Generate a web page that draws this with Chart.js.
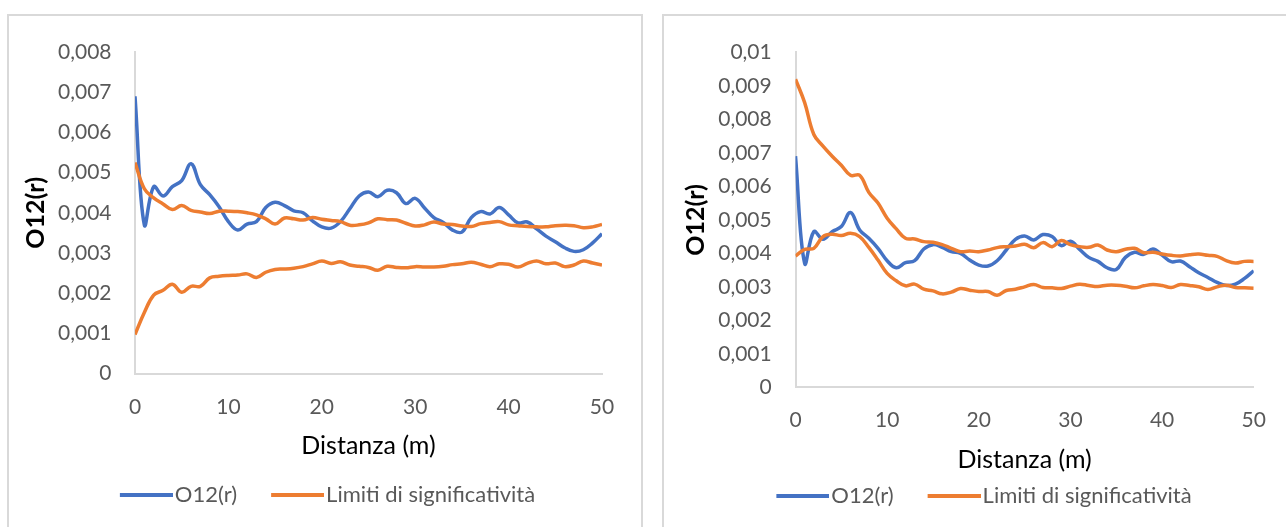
<!DOCTYPE html>
<html lang="it">
<head>
<meta charset="utf-8">
<title>O12(r) – Distanza (m)</title>
<script src="https://cdn.jsdelivr.net/npm/chart.js@4.4.1/dist/chart.umd.min.js"></script>
<style>
  html, body { margin: 0; padding: 0; background: #fff; overflow: hidden; width: 1286px; height: 527px; }
  .box { position: absolute; border: 2px solid #d9d9d9; border-bottom: none; background: #fff; }
  #boxA { left: 7px; top: 14px; width: 632px; height: 520px; }
  #boxB { left: 662px; top: 14px; width: 640px; height: 520px; }
  canvas { position: absolute; left: 0; top: 0; }
</style>
</head>
<body>
<div class="box" id="boxA"><canvas id="chartA" width="632" height="511"></canvas></div>
<div class="box" id="boxB"><canvas id="chartB" width="622" height="511"></canvas></div>
<script>
// Distanza (m)
const distanze = [0,1,2,3,4,5,6,7,8,9,10,11,12,13,14,15,16,17,18,19,20,21,22,23,24,25,
  26,27,28,29,30,31,32,33,34,35,36,37,38,39,40,41,42,43,44,45,46,47,48,49,50];

// O12(r), same curve in both panels
const o12 = [0.0069,0.0037,0.00465,0.00442,0.00465,0.0048,0.00522,0.0047,0.00445,0.00415,
  0.00378,0.00357,0.00372,0.00378,0.00413,0.00426,0.00418,0.00405,0.0040,0.0038,
  0.00365,0.00362,0.00378,0.0041,0.00442,0.00452,0.0044,0.00456,0.0045,0.00423,
  0.00436,0.00412,0.00388,0.00376,0.00357,0.00352,0.00388,0.00403,0.00397,0.00413,
  0.00395,0.00375,0.00377,0.0036,0.00342,0.00328,0.00313,0.00304,0.00308,0.00325,0.00348];

// Limiti di significatività, left panel
const limSupA = [0.00525,0.0046,0.00437,0.00422,0.00408,0.00418,0.00406,0.00402,0.00398,0.00404,
  0.00404,0.00403,0.0040,0.00395,0.00385,0.00372,0.00387,0.00385,0.00382,0.00388,
  0.00384,0.00381,0.00378,0.00369,0.0037,0.00375,0.00385,0.00383,0.00382,0.00374,
  0.00367,0.0037,0.00377,0.00372,0.00371,0.00367,0.00366,0.00373,0.00376,0.00378,
  0.0037,0.00368,0.00366,0.00365,0.00365,0.00368,0.00369,0.00368,0.00363,0.00365,0.00371];
const limInfA = [0.00097,0.00152,0.00195,0.00207,0.00222,0.00202,0.00217,0.00217,0.00238,0.00242,
  0.00244,0.00245,0.00248,0.00239,0.00252,0.00259,0.0026,0.00262,0.00266,0.00273,
  0.0028,0.00274,0.00278,0.0027,0.00267,0.00264,0.00257,0.00267,0.00264,0.00263,
  0.00266,0.00265,0.00265,0.00267,0.00271,0.00273,0.00277,0.00272,0.00266,0.00273,
  0.00272,0.00265,0.00274,0.0028,0.00273,0.00275,0.00266,0.0027,0.0028,0.00275,0.0027];

// Limiti di significatività, right panel
const limSupB = [0.0092,0.0085,0.00755,0.0072,0.0069,0.00663,0.00633,0.00633,0.00582,0.0055,
  0.00505,0.00473,0.00445,0.00443,0.00435,0.00433,0.00426,0.00415,0.00405,0.00407,
  0.00405,0.0041,0.00417,0.0042,0.00422,0.00427,0.00417,0.00432,0.0042,0.00438,
  0.00426,0.0042,0.00418,0.00425,0.0041,0.00405,0.00412,0.00415,0.00402,0.00403,
  0.00398,0.00394,0.00392,0.00396,0.00398,0.00394,0.00391,0.00378,0.00371,0.00376,0.00376];
const limInfB = [0.00392,0.00412,0.00415,0.0045,0.00457,0.00453,0.0046,0.0045,0.00418,0.0038,
  0.0034,0.00318,0.00303,0.00308,0.00293,0.00288,0.00279,0.00284,0.00295,0.0029,
  0.00286,0.00286,0.00275,0.00289,0.00293,0.0030,0.00307,0.00298,0.00297,0.00295,
  0.00302,0.00308,0.00304,0.00301,0.00305,0.00305,0.00302,0.00297,0.00303,0.00307,
  0.00304,0.00298,0.00307,0.00304,0.0030,0.00292,0.0030,0.00305,0.00298,0.00297,0.00296];

// Tick labels
const xTickLabels = ['0','10','20','30','40','50'];
const yTickLabelsA = ['0','0,001','0,002','0,003','0,004','0,005','0,006','0,007','0,008'];
const yTickLabelsB = ['0','0,001','0,002','0,003','0,004','0,005','0,006','0,007','0,008','0,009','0,01'];

const serieO12 = 'O12(r)';
const serieLimiti = 'Limiti di significatività';
const titoloX = 'Distanza (m)';
const titoloY = 'O12(r)';

const BLU = '#4472C4';
const ARANCIO = '#ED7D31';
const GRIGIO_TESTO = '#595959';
const GRIGIO_ASSE = '#d9d9d9';
const FONT = 'Lato, "Open Sans", sans-serif';

Chart.defaults.font.family = FONT;

// Legend swatch: a thick stroke placed in the right part of the image, so that
// it starts at the item's left edge and ends just before the label text
function tratto(colore) {
  const c = document.createElement('canvas');
  c.width = 62;
  c.height = 4;
  const ctx = c.getContext('2d');
  ctx.fillStyle = colore;
  ctx.fillRect(9, 0, 53, 4);
  return c;
}
const trattoBlu = tratto(BLU);
const trattoArancio = tratto(ARANCIO);

function punti(valori) {
  return distanze.map((r, i) => ({ x: r, y: valori[i] }));
}

function linea(label, valori, colore, ordine) {
  return {
    label: label,
    data: punti(valori),
    borderColor: colore,
    backgroundColor: colore,
    borderWidth: 3.5,
    pointRadius: 0,
    pointHoverRadius: 0,
    showLine: true,
    tension: 0.4,
    fill: false,
    order: ordine
  };
}

function vociLegenda(chart) {
  const base = Chart.defaults.plugins.legend.labels.generateLabels(chart);
  return base
    .filter((it) => it.text !== '')
    .sort((a, b) => a.datasetIndex - b.datasetIndex)
    .map((it) => Object.assign(it, { pointStyle: it.datasetIndex === 0 ? trattoBlu : trattoArancio }));
}

function grafico(id, sup, inf, yMax, yLabels, g) {
  return new Chart(document.getElementById(id), {
    type: 'scatter',
    data: {
      datasets: [
        linea(serieO12, o12, BLU, 2),
        linea(serieLimiti, sup, ARANCIO, 1),
        linea('', inf, ARANCIO, 1)
      ]
    },
    options: {
      responsive: false,
      animation: false,
      devicePixelRatio: 1,
      layout: { padding: { left: g.padL, right: g.padR, top: g.padT, bottom: g.padB } },
      scales: {
        x: {
          type: 'linear',
          min: 0, max: 50,
          grid: { display: false, drawTicks: false },
          border: { display: true, color: GRIGIO_ASSE, width: 2 },
          ticks: {
            stepSize: 10,
            padding: g.xTickPad,
            color: GRIGIO_TESTO,
            font: { size: 21 },
            maxRotation: 0,
            callback: (v) => xTickLabels[Math.round(v / 10)]
          },
          title: {
            display: true,
            text: titoloX,
            color: '#000000',
            font: { size: 25, lineHeight: 1.2 },
            padding: { top: 0, bottom: g.xTitlePad }
          },
          afterFit: (s) => { s.height = g.xHeight; }
        },
        y: {
          type: 'linear',
          min: 0, max: yMax,
          grid: { display: false, drawTicks: false },
          border: { display: true, color: GRIGIO_ASSE, width: 2 },
          ticks: {
            stepSize: 0.001,
            padding: g.yTickPad,
            color: GRIGIO_TESTO,
            font: { size: 21 },
            callback: (v) => yLabels[Math.round(v / 0.001)]
          },
          title: {
            display: true,
            text: titoloY,
            color: '#000000',
            font: { size: 25, weight: 'bold', lineHeight: 1.2 },
            padding: { top: g.yTitlePad, bottom: 0 }
          },
          afterFit: (s) => { s.width = g.yWidth; }
        }
      },
      plugins: {
        tooltip: { enabled: false },
        legend: {
          position: 'bottom',
          labels: {
            usePointStyle: true,
            pointStyleWidth: 44,
            padding: 34,
            color: GRIGIO_TESTO,
            font: { size: 22 },
            generateLabels: vociLegenda
          }
        }
      }
    }
  });
}

grafico('chartA', limSupA, limInfA, 0.008, yTickLabelsA, {
  padL: 44, padR: 39, padT: 29, padB: 11,
  yWidth: 82, xHeight: 76.5,
  xTickPad: 20.9, yTickPad: 23.5,
  xTitlePad: -11, yTitlePad: -32
});

grafico('chartB', limSupB, limInfB, 0.01, yTickLabelsB, {
  padL: 48, padR: 30, padT: 28.5, padB: 10,
  yWidth: 83.5, xHeight: 63.7,
  xTickPad: 20.1, yTickPad: 23.8,
  xTitlePad: -24, yTitlePad: -31.5
});
</script>
</body>
</html>
